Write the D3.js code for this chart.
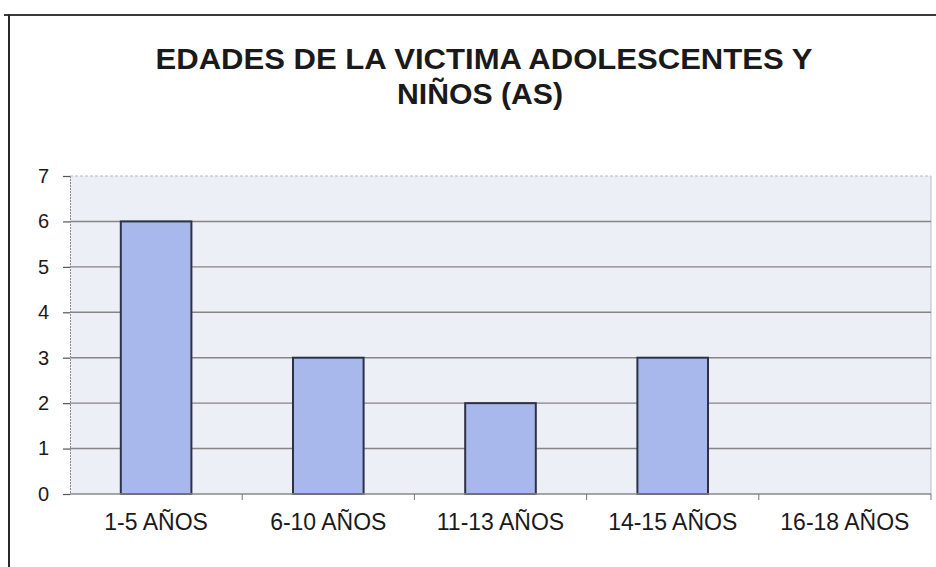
<!DOCTYPE html>
<html>
<head>
<meta charset="utf-8">
<script src="https://cdn.jsdelivr.net/npm/d3@7/dist/d3.min.js"></script>
<style>
  html, body { margin: 0; padding: 0; background: #ffffff; }
  svg { display: block; }
</style>
</head>
<body>
<script>
// Age groups of child and adolescent victims
const categories = ["1-5 AÑOS", "6-10 AÑOS", "11-13 AÑOS", "14-15 AÑOS", "16-18 AÑOS"];
const values = [6, 3, 2, 3, 0];
const yTicks = [0, 1, 2, 3, 4, 5, 6, 7];
const titleLines = ["EDADES DE LA VICTIMA ADOLESCENTES Y", "NIÑOS (AS)"];
const titleWidths = [657, 166];

const W = 936, H = 567;
const plot = { left: 70, right: 931, top: 176, bottom: 494 };

const svg = d3.select("body").append("svg")
  .attr("width", W).attr("height", H);

// Outer chart frame (top and left edges)
svg.append("line").attr("x1", 4).attr("x2", W).attr("y1", 15).attr("y2", 15)
  .attr("stroke", "#3a3a3a").attr("stroke-width", 2);
svg.append("line").attr("x1", 9).attr("x2", 9).attr("y1", 14).attr("y2", H)
  .attr("stroke", "#2a2a2a").attr("stroke-width", 2);

// Title
svg.append("g")
  .selectAll("text")
  .data(titleLines)
  .join("text")
  .attr("text-anchor", "middle")
  .attr("font-family", "Liberation Sans, Arial, sans-serif")
  .attr("font-weight", "bold")
  .attr("font-size", 29)
  .attr("fill", "#1a1a1a")
  .attr("x", (d, i) => i === 0 ? 484 : 480)
  .attr("y", (d, i) => 69 + i * 35)
  .attr("textLength", (d, i) => titleWidths[i])
  .attr("lengthAdjust", "spacingAndGlyphs")
  .text(d => d);

const x = d3.scaleBand()
  .domain(categories)
  .range([plot.left, plot.right])
  .paddingInner(0.59)
  .paddingOuter(0.295);

const y = d3.scaleLinear()
  .domain([0, 7])
  .range([plot.bottom, plot.top]);

// Plot area background
svg.append("rect")
  .attr("x", plot.left).attr("y", plot.top)
  .attr("width", plot.right - plot.left).attr("height", plot.bottom - plot.top)
  .attr("fill", "#eceff5");

// Right edge of plot area
svg.append("line")
  .attr("x1", plot.right).attr("x2", plot.right)
  .attr("y1", plot.top).attr("y2", plot.bottom)
  .attr("stroke", "#b8bcc4").attr("stroke-width", 1);

// Horizontal gridlines
svg.append("g")
  .selectAll("line")
  .data(yTicks.filter(t => t > 0))
  .join("line")
  .attr("x1", plot.left).attr("x2", plot.right)
  .attr("y1", d => y(d)).attr("y2", d => y(d))
  .attr("stroke", d => d === 7 ? "#b4b8c0" : "#858585")
  .attr("stroke-width", d => d === 7 ? 1 : 1.4)
  .attr("stroke-dasharray", d => d === 7 ? "3,2" : null);

// Y axis
const yAxis = svg.append("g")
  .attr("transform", `translate(${plot.left},0)`)
  .call(d3.axisLeft(y).tickValues(yTicks).tickSize(7).tickPadding(14).tickFormat(d3.format("d")));
yAxis.select(".domain").attr("stroke", "#8a8a8a").attr("stroke-width", 1).attr("stroke-dasharray", "2,1");
yAxis.selectAll(".tick line").attr("stroke", "#555").attr("stroke-width", 1.2);
yAxis.selectAll(".tick text")
  .attr("font-family", "Liberation Sans, Arial, sans-serif")
  .attr("font-size", 20)
  .attr("fill", "#1a1a1a");

// Bars
svg.append("g")
  .selectAll("rect")
  .data(values.map((v, i) => ({ cat: categories[i], v })).filter(d => d.v > 0))
  .join("rect")
  .attr("x", d => x(d.cat))
  .attr("y", d => y(d.v))
  .attr("width", x.bandwidth())
  .attr("height", d => y(0) - y(d.v))
  .attr("fill", "#a8b8ec")
  .attr("stroke", "#2c3148")
  .attr("stroke-width", 2);

// X axis (zero line with category separator ticks)
const sepScale = d3.scaleLinear().domain([0, categories.length]).range([plot.left, plot.right]);
const xAxisG = svg.append("g");
xAxisG.append("line")
  .attr("x1", plot.left).attr("x2", plot.right)
  .attr("y1", y(0)).attr("y2", y(0))
  .attr("stroke", "#8a8a8a").attr("stroke-width", 1.4);
xAxisG.selectAll("line.sep")
  .data(d3.range(1, categories.length + 1))
  .join("line")
  .attr("class", "sep")
  .attr("x1", d => sepScale(d)).attr("x2", d => sepScale(d))
  .attr("y1", y(0)).attr("y2", y(0) + 6)
  .attr("stroke", "#777").attr("stroke-width", 1);

xAxisG.selectAll("text")
  .data(categories)
  .join("text")
  .attr("x", d => x(d) + x.bandwidth() / 2)
  .attr("y", 530)
  .attr("text-anchor", "middle")
  .attr("font-family", "Liberation Sans, Arial, sans-serif")
  .attr("font-size", 23)
  .attr("fill", "#1a1a1a")
  .text(d => d);
</script>
</body>
</html>
